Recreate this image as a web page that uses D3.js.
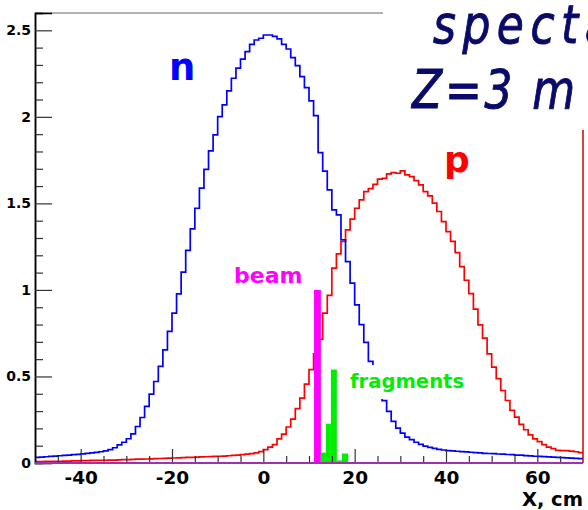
<!DOCTYPE html>
<html><head><meta charset="utf-8">
<script src="https://cdn.jsdelivr.net/npm/d3@7"></script>
<style>body{margin:0;background:#fff} svg{display:block}</style>
</head><body><svg id="c" width="588" height="510"></svg>
<script>
// ---- data (1 cm bins from -50 to 70) ----
const binStart = -50, binEnd = 70;
const nValues = [
 0.032,0.034,0.036,0.038,0.040,0.042,0.044,0.046,0.048,0.050,
 0.053,0.056,0.058,0.061,0.065,0.070,0.077,0.088,0.105,0.120,
 0.140,0.168,0.211,0.263,0.327,0.398,0.471,0.558,0.654,0.760,
 0.866,0.977,1.103,1.228,1.353,1.472,1.588,1.697,1.803,1.896,
 2.001,2.069,2.150,2.223,2.281,2.334,2.377,2.419,2.444,2.454,
 2.473,2.473,2.465,2.450,2.419,2.392,2.342,2.296,2.232,2.169,
 2.092,2.007,1.793,1.686,1.578,1.462,1.434,1.290,1.164,1.039,
 0.914,0.799,0.697,0.587,0.500,0.430,0.360,0.298,0.240,0.202,
 0.173,0.150,0.135,0.120,0.108,0.098,0.090,0.084,0.079,0.075,
 0.072,0.070,0.068,0.066,0.064,0.062,0.060,0.058,0.056,0.055,
 0.054,0.052,0.051,0.049,0.048,0.046,0.045,0.043,0.041,0.039,
 0.038,0.037,0.035,0.034,0.033,0.031,0.030,0.028,0.027,0.025];
const pValues = [
 0.008,0.008,0.009,0.009,0.010,0.010,0.011,0.011,0.012,0.012,
 0.014,0.014,0.015,0.015,0.016,0.016,0.017,0.017,0.018,0.019,
 0.020,0.021,0.022,0.022,0.023,0.024,0.025,0.026,0.027,0.028,
 0.029,0.030,0.031,0.032,0.033,0.034,0.035,0.036,0.037,0.038,
 0.039,0.040,0.042,0.044,0.046,0.048,0.051,0.054,0.058,0.066,
 0.077,0.092,0.106,0.139,0.167,0.208,0.254,0.314,0.375,0.456,
 0.539,0.631,0.716,0.866,0.968,1.126,1.208,1.280,1.347,1.409,
 1.472,1.520,1.568,1.585,1.610,1.640,1.645,1.670,1.678,1.674,
 1.688,1.665,1.655,1.632,1.607,1.568,1.543,1.501,1.453,1.395,
 1.337,1.280,1.216,1.135,1.056,0.979,0.889,0.798,0.722,0.631,
 0.554,0.487,0.419,0.361,0.304,0.265,0.223,0.192,0.163,0.139,
 0.123,0.106,0.092,0.083,0.073,0.071,0.071,0.069,0.065,0.060];
const beamEdges = [11.1, 12.6];
const beamValues = [1.0];
const fragEdges = [12.6, 13.7, 14.8, 16.1, 17.2, 18.6];
const fragValues = [0.060, 0.227, 0.540, 0.015, 0.055];
const xMajorTicks = [-40, -20, 0, 20, 40, 60];
const yMajorTicks = [0, 0.5, 1, 1.5, 2, 2.5];
const yMax = 2.6;

// ---- layout ----
const svg = d3.select('#c');
svg.append('rect').attr('width',588).attr('height',510).attr('fill','#fff');
const x = d3.scaleLinear().domain([binStart, binEnd]).range([35, 583]);
const y = d3.scaleLinear().domain([0, yMax]).range([463, 13]);
const FONT = "'DejaVu Sans', 'Liberation Sans', sans-serif";

const edges = d3.range(binStart, binEnd + 1);
function stepPts(vals){ const pts = vals.map((v,i)=>[edges[i], v]); pts.push([edges[vals.length], vals[vals.length-1]]); return pts; }
const line = d3.line().x(d=>x(d[0])).y(d=>y(d[1])).curve(d3.curveStepAfter);

// histograms
svg.append('path').attr('d', line(stepPts(pValues))).attr('fill','none').attr('stroke','#ff0000').attr('stroke-width',1.7);
svg.append('path').attr('d', line(stepPts(nValues))).attr('fill','none').attr('stroke','#0000ff').attr('stroke-width',1.7);

// beam & fragments (filled bars)
svg.selectAll('rect.beam').data(beamValues).enter().append('rect').attr('class','beam')
  .attr('x',(d,i)=>x(beamEdges[i])).attr('width',(d,i)=>x(beamEdges[i+1])-x(beamEdges[i]))
  .attr('y',d=>y(d)).attr('height',d=>y(0)-y(d)).attr('fill','#ff00ff');
svg.selectAll('rect.frag').data(fragValues).enter().append('rect').attr('class','frag')
  .attr('x',(d,i)=>x(fragEdges[i])).attr('width',(d,i)=>x(fragEdges[i+1])-x(fragEdges[i]))
  .attr('y',d=>y(d)).attr('height',d=>y(0)-y(d)).attr('fill','#00ee00');

// frame
svg.append('line').attr('x1',x(binStart)).attr('x2',x(binEnd)).attr('y1',y(yMax)).attr('y2',y(yMax)).attr('stroke','#999').attr('stroke-width',1.5);
svg.append('line').attr('x1',x(binEnd)).attr('x2',x(binEnd)).attr('y1',y(yMax)).attr('y2',y(0)).attr('stroke','#cc0000').attr('stroke-width',1.5);

// axes
const yMinor = d3.range(0, 2.61, 0.1).filter(v => !yMajorTicks.some(m => Math.abs(m-v) < 1e-6));
const gy = svg.append('g').attr('transform',`translate(${x(binStart)},0)`);
gy.call(d3.axisLeft(y).tickValues(yMinor).tickSize(-8).tickFormat(''));
gy.call(g=>g.selectAll('.tick').attr('class','minor'));
gy.append('g').call(d3.axisLeft(y).tickValues(yMajorTicks).tickSize(-17).tickPadding(4).tickFormat(d=>String(d)));
gy.selectAll('path.domain').attr('stroke','#000').attr('stroke-width',1.5);
gy.selectAll('line').attr('stroke','#333').attr('stroke-width',1.2);
gy.selectAll('text').attr('font-family',FONT).attr('font-weight','bold').attr('font-size',14).attr('fill','#000');

const xMinor = d3.range(-50, 71, 5).filter(v => !xMajorTicks.includes(v) && v > -50 && v < 70);
const gx = svg.append('g').attr('transform',`translate(0,${y(0)})`);
gx.call(d3.axisBottom(x).tickValues(xMinor).tickSize(-7).tickFormat(''));
gx.append('g').call(d3.axisBottom(x).tickValues(xMajorTicks).tickSize(-14).tickPadding(8).tickFormat(d=>String(d)));
gx.selectAll('path.domain').attr('stroke','none');
gx.selectAll('line').attr('stroke','#333').attr('stroke-width',1.2);
gx.selectAll('text').attr('font-family',FONT).attr('font-weight','bold').attr('font-size',18.5).attr('fill','#000');
// baseline (purple)
svg.append('line').attr('x1',x(binStart)).attr('x2',x(binEnd)).attr('y1',y(0)).attr('y2',y(0)).attr('stroke','#a030b0').attr('stroke-width',2);

svg.append('text').attr('x',583).attr('y',506).attr('text-anchor','end')
  .attr('font-family',FONT).attr('font-weight','bold').attr('font-size',19.5).text('X, cm');

// labels
svg.append('text').attr('x',169).attr('y',80).attr('font-family',FONT).attr('font-weight','bold').attr('font-size',37).attr('fill','#0000ff').text('n');
svg.append('text').attr('x',444).attr('y',172).attr('font-family',FONT).attr('font-weight','bold').attr('font-size',36).attr('fill','#ff0000').text('p');
svg.append('text').attr('x',234).attr('y',283).attr('font-family',FONT).attr('font-weight','bold').attr('font-size',22).attr('fill','#ff00ff').text('beam');
svg.append('rect').attr('x',346).attr('y',365).attr('width',124).attr('height',34).attr('fill','#fff');
svg.append('text').attr('x',350).attr('y',388).attr('font-family',FONT).attr('font-weight','bold').attr('font-size',19.6).attr('fill','#00ee00').text('fragments');

// title box
svg.append('rect').attr('x',383).attr('y',0).attr('width',205).attr('height',130).attr('fill','#fff');
const tf = "'Comic Sans MS', 'DejaVu Sans', sans-serif";
svg.append('text').attr('transform','translate(433,43) scale(1,1.2)').attr('font-family',tf).attr('font-style','italic')
  .attr('font-size',44).attr('letter-spacing',6.5).attr('fill','#0a0a6a').attr('stroke','#0a0a6a').attr('stroke-width',0.8)
  .text('spectators at');
svg.append('text').attr('transform','translate(412,108) scale(1,1.2)').attr('font-family',tf).attr('font-style','italic')
  .attr('font-size',44).attr('letter-spacing',2.8).attr('fill','#0a0a6a').attr('stroke','#0a0a6a').attr('stroke-width',0.8)
  .text('Z=3 m after');
</script></body></html>
